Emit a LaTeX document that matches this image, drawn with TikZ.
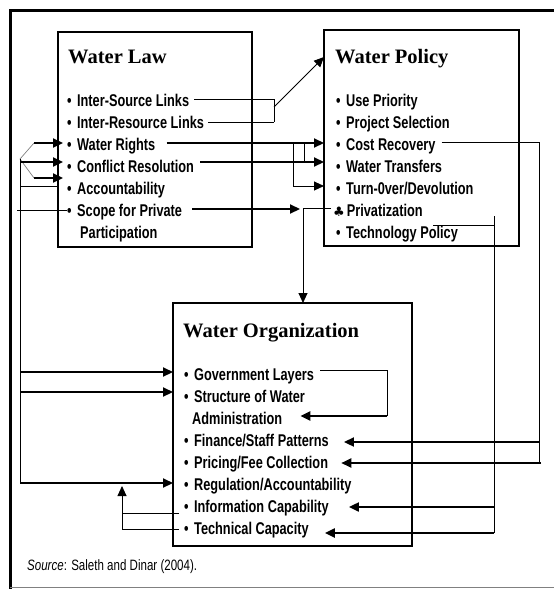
\documentclass[tikz,border=0pt]{standalone}
\usepackage{fontspec}
\usetikzlibrary{arrows.meta,calc}
\newfontfamily\titlefont{Liberation Serif}
\newfontfamily\itemfont{Liberation Sans}[FakeStretch=0.75]
\newfontfamily\srcfont{Liberation Sans}[FakeStretch=0.77]
\newfontfamily\symfont{DejaVu Sans}
\newcommand\itmbul{•\hspace{5.5pt}}
\tikzset{
  box/.style={draw, line width=1.6pt, inner sep=0, outer sep=0, anchor=north west},
  ttl/.style={anchor=base west, inner sep=0, font=\titlefont\bfseries\fontsize{20.5}{24}\selectfont},
  itm/.style={anchor=base west, inner sep=0, font=\itemfont\bfseries\fontsize{17}{20}\selectfont},
  thickl/.style={line width=2.2pt},
  thinl/.style={line width=0.9pt},
  tip/.style={-{Triangle[length=10pt,width=9pt]}},
}
\begin{document}
\begin{tikzpicture}[x=1pt,y=-1pt]
\useasboundingbox (0,0) rectangle (554,589);
% frame
\draw[line width=3pt] (10,589) -- (10,10) -- (554,10);
\draw[gray, line width=1pt] (10,587.5) -- (554,587.5);
% boxes
\node[box, minimum width=194pt, minimum height=215pt] (law) at (58,32) {};
\node[box, minimum width=195pt, minimum height=216pt] (pol) at (324,30) {};
\node[box, minimum width=239pt, minimum height=243pt] (org) at (173,303) {};
% titles
\node[ttl] (lawt) at (68,63) {Water Law};
\node[ttl] (polt) at (335,63) {Water Policy};
\node[ttl] (orgt) at (183,337) {Water Organization};
% law items
\node[itm] (ls) at (67,106) {\itmbul Inter-Source Links};
\node[itm] (lr) at (67,128) {\itmbul Inter-Resource Links};
\node[itm] (lw) at (67,150) {\itmbul Water Rights};
\node[itm] (lc) at (67,172) {\itmbul Conflict Resolution};
\node[itm] (la) at (67,194) {\itmbul Accountability};
\node[itm] (lp) at (67,216) {\itmbul Scope for Private};
\node[itm] (lp2) at (80,238) {Participation};
% policy items
\node[itm] (pu) at (336,106) {\itmbul Use Priority};
\node[itm] (pp) at (336,128) {\itmbul Project Selection};
\node[itm] (pc) at (336,150) {\itmbul Cost Recovery};
\node[itm] (pw) at (336,172) {\itmbul Water Transfers};
\node[itm] (pt) at (336,194) {\itmbul Turn-0ver/Devolution};
\node[itm] (pv) at (333,216) {{\symfont\fontsize{13}{15}\selectfont ♣}\hspace{2pt}Privatization};
\node[itm] (pg) at (336,238) {\itmbul Technology Policy};
% org items
\node[itm] (og) at (184,380) {\itmbul Government Layers};
\node[itm] (os) at (184,402) {\itmbul Structure of Water};
\node[itm] (os2) at (192,424) {Administration};
\node[itm] (of) at (184,446) {\itmbul Finance/Staff Patterns};
\node[itm] (op) at (184,468) {\itmbul Pricing/Fee Collection};
\node[itm] (orr) at (184,490) {\itmbul Regulation/Accountability};
\node[itm] (oi) at (184,512) {\itmbul Information Capability};
\node[itm] (ot) at (184,534) {\itmbul Technical Capacity};
% source
\node[anchor=base west, inner sep=0, font=\srcfont\fontsize{15}{18}\selectfont] (src) at (27,570) {\textit{Source}: Saleth and Dinar (2004).};
% inter links bracket
\draw[thinl] ($(ls.base east)+(5,-6.5)$) -| (274,122);
\draw[thinl] ($(lr.base east)+(4,-6)$) -- (274,122);
\draw[thinl,tip] (274,107) -- ([yshift=-27pt]pol.north west);
% water rights / conflict -> policy
\draw[thickl,tip] ($(lw.base east)+(11,-7)$) -- (pol.west |- 0,143);
\draw[thickl,tip] ($(lc.base east)+(6,-10)$) -- (pol.west |- 0,162);
\draw[thinl] (293,143) -- (293,186);
\draw[thinl,tip] (293,186) -- (pol.west |- 0,186);
\draw[thinl] (304,143) -- (304,162);
% left bus
\draw[gray,line width=0.7pt] (34,143) -- (20,159) -- (34,178);
\draw[thickl,tip] (34,143) -- ($(lw.base west)+(-4,-7)$);
\draw[thickl,tip] (20,162) -- ($(lc.base west)+(-4,-10)$);
\draw[thickl,tip] (34,178) -- ($(la.base west)+(-4,-16)$);
\draw[thinl] (20,186) -- (law.west |- 0,186);
\draw[thinl] (17,210) -- ($(lp.base west)+(0,-6)$);
\draw[thinl] (20,159) -- (20,483);
\draw[thickl,tip] (20,372) -- (org.west |- 0,372);
\draw[thickl,tip] (20,392) -- (org.west |- 0,392);
\draw[thickl,tip] (20,483) -- (org.west |- 0,483);
% scope -> privatization -> org
\draw[thickl,tip] ($(lp.base east)+(10,-7)$) -- (300,209);
\draw[thinl] ($(pv.base west)+(-2,-8)$) -- (303,208);
\draw[thinl,tip] (303,208) -- (org.north -| 303,0);
% cost recovery -> finance / pricing
\draw[thinl] ($(pc.base east)+(6,-8)$) -| (539,463) -- (541,463);
\draw[thickl,tip] (539,442) -- ($(of.base east)+(15,-4)$);
\draw[thickl,tip] (541,463) -- ($(op.base east)+(13,-5)$);
% technology policy -> information / technical
\draw[thinl] (433,225) -- (494,225);
\draw[thinl] (494,216) -- (494,533);
\draw[thickl,tip] (494,507) -- ($(oi.base east)+(20,-5)$);
\draw[thickl,tip] (494,533) -- ($(ot.base east)+(16,-1)$);
% government layers -> administration
\draw[thinl] ($(og.base east)+(6,-10)$) -| (387,416);
\draw[thickl,tip] (387,416) -- ($(os2.base east)+(18,-8)$);
% information / technical -> regulation
\draw[thinl] ($(oi.base west)+(-5,1)$) -- (122,513);
\draw[thinl,tip] ($(ot.base west)+(-5,-5)$) -| (122,486);
\end{tikzpicture}
\end{document}
